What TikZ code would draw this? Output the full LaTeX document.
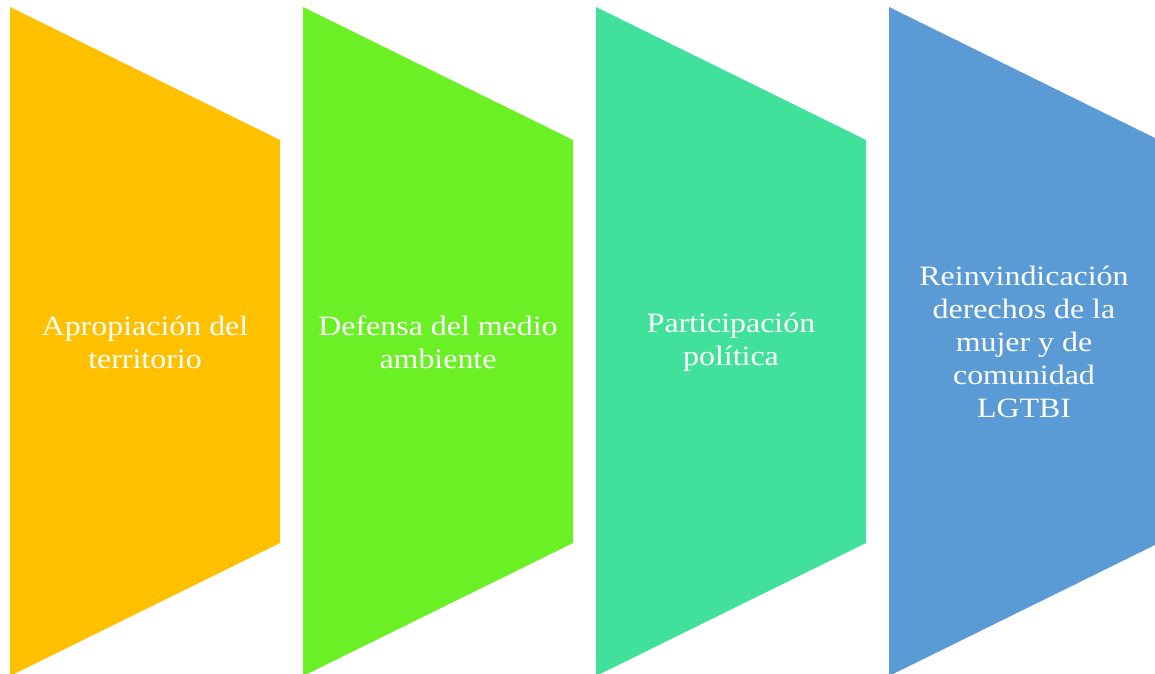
\documentclass[tikz,border=0pt]{standalone}
\usepackage{fontspec}
\setmainfont{Liberation Serif}
\usepackage{xcolor}
\definecolor{ColA}{RGB}{255,192,0}
\definecolor{ColB}{RGB}{106,240,36}
\definecolor{ColC}{RGB}{66,225,155}
\definecolor{ColD}{RGB}{91,155,213}
\tikzstyle{StepText}=[align=center,text=white,inner sep=0pt,xscale=1.14,transform shape,
font=\fontsize{28}{33}\selectfont]

\begin{document}
\begin{tikzpicture}[x=1pt,y=1pt]
        \clip(0,0)rectangle(1155,673);
        \fill[ColA](10,666)--(280,533)--(280,130)--(10,-3)--cycle;
        \fill[ColB](303,666)--(573,533)--(573,130)--(303,-3)--cycle;
        \fill[ColC](596,666)--(866,533)--(866,130)--(596,-3)--cycle;
        \fill[ColD](889,666)--(1159,533)--(1159,130)--(889,-3)--cycle;
        \node[StepText](apro)at(145,331){Apropiación del\\territorio};
        \node[StepText](defe)at(438,331){Defensa del medio\\ambiente};
        \node[StepText](part)at(731,331){Participación\\política};
        \node[StepText](rein)at(1024,331){Reinvindicación\\derechos de la\\mujer y de\\comunidad\\LGTBI};
    \end{tikzpicture}
\end{document}
